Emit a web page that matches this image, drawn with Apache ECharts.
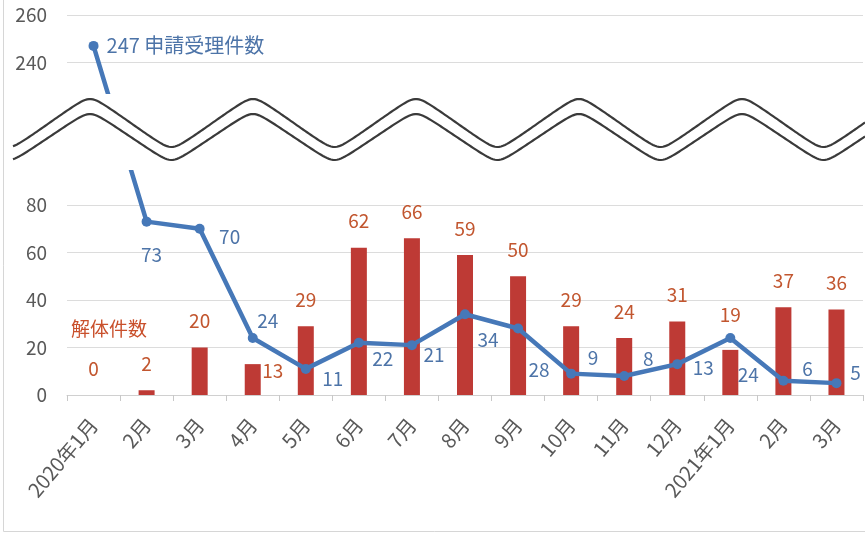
<!DOCTYPE html>
<html><head><meta charset="utf-8">
<script src="https://cdn.jsdelivr.net/npm/echarts@6/dist/echarts.min.js"></script>
<style>html,body{margin:0;padding:0;background:#fff}#c{width:865px;height:533px}</style>
</head><body><div id="c"></div>
<script>
// ---- data ----
const categories = ['2020年1月','2月','3月','4月','5月','6月','7月','8月','9月','10月','11月','12月','2021年1月','2月','3月'];
const demolitions = [0, 2, 20, 13, 29, 62, 66, 59, 50, 29, 24, 31, 19, 37, 36];   // 解体件数
const applications = [247, 73, 70, 24, 11, 22, 21, 34, 28, 9, 8, 13, 24, 6, 5];  // 申請受理件数
const yTickValues = [0, 20, 40, 60, 80, 240, 260];
const barSeriesName = '解体件数';
const lineSeriesName = '申請受理件数';

// ---- broken axis mapping (values above the break are shifted down) ----
const BREAK_SHIFT = 100;
const toAxis = v => v >= 200 ? v - BREAK_SHIFT : v;
const fromAxis = v => v > 100 ? v + BREAK_SHIFT : v;

// ---- label layout (style only) ----
const lineLabelOffsets = [null,[5,33],[30,8],[15,-17],[27,10],[24,16],[22,10],[23,26],[21,41],[22,-16],[24,-17],[26,4],[18,37],[24,-12],[19,-10]];
const barLabelOffsets = {3:[20,33], 12:[0,-9]};

const FONT = "'Liberation Sans Narrow','Noto Sans CJK JP',sans-serif";
const AXIS_COLOR = '#595959';
const BAR_COLOR = '#BE3A35';
const BAR_LABEL = '#C2562F';
const LINE_COLOR = '#4678B8';
const LINE_LABEL = '#4D74A8';

const chart = echarts.init(document.getElementById('c'));

const barData = demolitions.map((v, i) => {
  const item = { value: v };
  if (barLabelOffsets[i]) item.label = { offset: barLabelOffsets[i] };
  return item;
});
const lineData = applications.map((v, i) => {
  const item = { value: toAxis(v) };
  if (i === 0) {
    item.label = { position: 'right', distance: 8, align: 'left', fontSize: 20, formatter: () => applications[0] + ' ' + lineSeriesName };
  } else {
    item.label = { position: 'inside', offset: lineLabelOffsets[i] };
  }
  return item;
});

function wave(c, A) {
  const pts = []; const k = 0.95, norm = Math.asin(k);
  for (let x = 13; x <= 866; x += 2) {
    const th = 2 * Math.PI * (x - 90) / 163;
    pts.push([x, c - A * Math.asin(k * Math.cos(th)) / norm]);
  }
  return pts;
}

chart.setOption({
  backgroundColor: '#fff',
  animation: false,
  grid: { left: 67, right: 2, top: 15, bottom: 138 },
  xAxis: {
    type: 'category',
    data: categories,
    boundaryGap: true,
    axisLine: { lineStyle: { color: '#d0d0d0', width: 1 } },
    axisTick: { show: true, length: 6, lineStyle: { color: '#c8c8c8' } },
    axisLabel: { rotate: 50, margin: 26, color: AXIS_COLOR, fontSize: 20, fontFamily: FONT, interval: 0 }
  },
  yAxis: {
    type: 'value', min: 0, max: 160, interval: 20,
    axisLine: { show: false }, axisTick: { show: false },
    splitLine: { lineStyle: { color: '#dcdcdc', width: 1 } },
    axisLabel: {
      margin: 20, color: AXIS_COLOR, fontSize: 19, fontFamily: FONT,
      formatter: v => { const o = fromAxis(v); return yTickValues.includes(o) ? String(o) : ''; }
    }
  },
  series: [
    {
      name: barSeriesName, type: 'bar', data: barData, barWidth: 16,
      itemStyle: { color: BAR_COLOR },
      label: { show: true, position: 'top', distance: 17, color: BAR_LABEL, fontSize: 19, fontFamily: FONT }
    },
    {
      name: lineSeriesName, type: 'line', data: lineData,
      lineStyle: { color: LINE_COLOR, width: 4.5 },
      itemStyle: { color: LINE_COLOR },
      symbol: 'circle', symbolSize: 10,
      label: { show: true, color: LINE_LABEL, fontSize: 19, fontFamily: FONT, formatter: p => String(applications[p.dataIndex]) },
      z: 3
    }
  ],
  graphic: [
    { type: 'rect', shape: { x: 0, y: 94, width: 865, height: 76 }, style: { fill: '#fff' }, z: 100, silent: true },
    { type: 'polyline', shape: { points: wave(123, 24) }, style: { stroke: '#3a3a3a', lineWidth: 2.2, fill: null }, z: 101, silent: true },
    { type: 'polyline', shape: { points: wave(137, 23) }, style: { stroke: '#3a3a3a', lineWidth: 2.2, fill: null }, z: 101, silent: true },
    { type: 'text', x: 71, y: 329, style: { text: barSeriesName, fill: '#C9502C', fontSize: 19, fontFamily: FONT, verticalAlign: 'middle', align: 'left' }, z: 102 },
    { type: 'line', shape: { x1: 3.5, y1: 0, x2: 3.5, y2: 531.5 }, style: { stroke: '#d6d6d6', lineWidth: 1 }, z: 102 },
    { type: 'line', shape: { x1: 3.5, y1: 531.5, x2: 865, y2: 531.5 }, style: { stroke: '#d6d6d6', lineWidth: 1 }, z: 102 }
  ]
});
</script>
</body></html>
